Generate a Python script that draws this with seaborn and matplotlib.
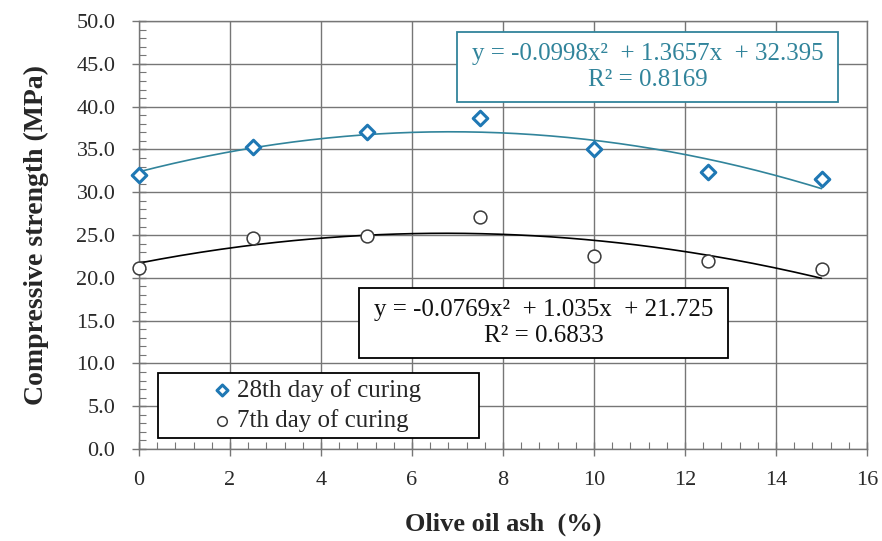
import numpy as np
import pandas as pd
import matplotlib
matplotlib.use("Agg")
import matplotlib.pyplot as plt
from matplotlib.patches import Rectangle
from matplotlib.ticker import MultipleLocator, FormatStrFormatter
import seaborn as sns

# Olive oil ash replacement level (%)
ash_pct = [0, 2.5, 5, 7.5, 10, 12.5, 15]
# Compressive strength (MPa)
strength_28d = [32.0, 35.3, 37.1, 38.7, 35.0, 32.4, 31.6]
strength_7d = [21.2, 24.7, 24.9, 27.1, 22.5, 22.0, 21.0]

# Quadratic trendline coefficients (a, b, c) for y = a x^2 + b x + c
fit_28d = [-0.0998, 1.3657, 32.395]
r2_28d = 0.8169
fit_7d = [-0.0769, 1.035, 21.725]
r2_7d = 0.6833

series_labels = ["28th day of curing", "7th day of curing"]

sns.set_theme(style="white")
plt.rcParams["font.family"] = ["Liberation Serif", "DejaVu Serif"]

blue = "#1F78B4"
teal = "#31849B"
grid_c = "#767676"

df = pd.DataFrame({
    "ash": ash_pct * 2,
    "strength": strength_28d + strength_7d,
    "series": [series_labels[0]] * len(ash_pct) + [series_labels[1]] * len(ash_pct),
})

xs = np.linspace(min(ash_pct), max(ash_pct), 200)
trend = pd.DataFrame({
    "ash": np.concatenate([xs, xs]),
    "strength": np.concatenate([np.polyval(fit_28d, xs), np.polyval(fit_7d, xs)]),
    "series": [series_labels[0]] * len(xs) + [series_labels[1]] * len(xs),
})

fig = plt.figure(figsize=(8.82, 5.41), dpi=100)
ax = fig.add_axes([0.1576, 0.170, 0.8254, 0.791])

sns.lineplot(data=trend, x="ash", y="strength", hue="series",
             palette={series_labels[0]: teal, series_labels[1]: "black"},
             linewidth=1.2, legend=False, ax=ax, zorder=3)

sns.scatterplot(data=df[df.series == series_labels[0]], x="ash", y="strength",
                marker="D", s=55, facecolor="white", edgecolor=blue, linewidth=2.2,
                ax=ax, zorder=4, label=series_labels[0], clip_on=False)
sns.scatterplot(data=df[df.series == series_labels[1]], x="ash", y="strength",
                marker="o", s=85, facecolor="white", edgecolor="#3a3a3a", linewidth=1.1,
                ax=ax, zorder=4, label=series_labels[1], clip_on=False)

ax.set_xlim(0, 16)
ax.set_ylim(0, 50)
ax.xaxis.set_major_locator(MultipleLocator(2))
ax.xaxis.set_minor_locator(MultipleLocator(0.4))
ax.yaxis.set_major_locator(MultipleLocator(5))
ax.yaxis.set_minor_locator(MultipleLocator(1))
ax.yaxis.set_major_formatter(FormatStrFormatter("%.1f"))
ax.xaxis.set_major_formatter(FormatStrFormatter("%d"))

ax.grid(True, which="major", color=grid_c, linewidth=1.0)
for side, sp in ax.spines.items():
    sp.set_color(grid_c)
    sp.set_linewidth(1.0)

ax.tick_params(axis="both", which="major", direction="inout", length=10, width=1.0,
               color=grid_c, labelsize=16, labelcolor="#2a2a2a",
               bottom=True, left=True)
ax.tick_params(axis="x", which="major", pad=11)
ax.tick_params(axis="y", which="major", pad=12)
ax.tick_params(axis="both", which="minor", direction="in", length=5, width=0.8,
               color=grid_c, bottom=True, left=True)

ax.set_xlabel("Olive oil ash  (%)", fontsize=19, fontweight="bold", labelpad=16)
ax.set_ylabel("Compressive strength (MPa)", fontsize=20, fontweight="bold", labelpad=20)


def eq_text(c, r2):
    return (f"y = {c[0]:g}x\u00b2  + {c[1]:g}x  + {c[2]:g}\n"
            f"R\u00b2 = {r2:.4f}")


def boxed_equation(x0, y0, x1, y1, text, color, edge):
    ax.add_patch(Rectangle((x0, y0), x1 - x0, y1 - y0, transform=ax.transAxes,
                           facecolor="white", edgecolor=edge, linewidth=1.3,
                           zorder=6))
    ax.text((x0 + x1) / 2, (y0 + y1) / 2, text, transform=ax.transAxes,
            ha="center", va="center", fontsize=18, color=color,
            linespacing=1.2, zorder=7)


boxed_equation(0.4368, 0.8107, 0.9602, 0.9743, eq_text(fit_28d, r2_28d), teal, teal)
boxed_equation(0.3022, 0.2126, 0.8091, 0.3762, eq_text(fit_7d, r2_7d), "#111111", "black")

# legend frame and entries
ax.add_patch(Rectangle((0.026, 0.0257), 0.441, 0.152, transform=ax.transAxes,
                       facecolor="white", edgecolor="black", linewidth=1.3, zorder=6))
leg = ax.legend(loc="center left", bbox_to_anchor=(0.0975, 0.1016), fontsize=18,
                frameon=False, handletextpad=0.1, borderpad=0, labelspacing=0.3,
                handlelength=1.0, borderaxespad=0, markerscale=0.75)
leg.set_zorder(8)

fig.savefig("out.png", dpi=100)
